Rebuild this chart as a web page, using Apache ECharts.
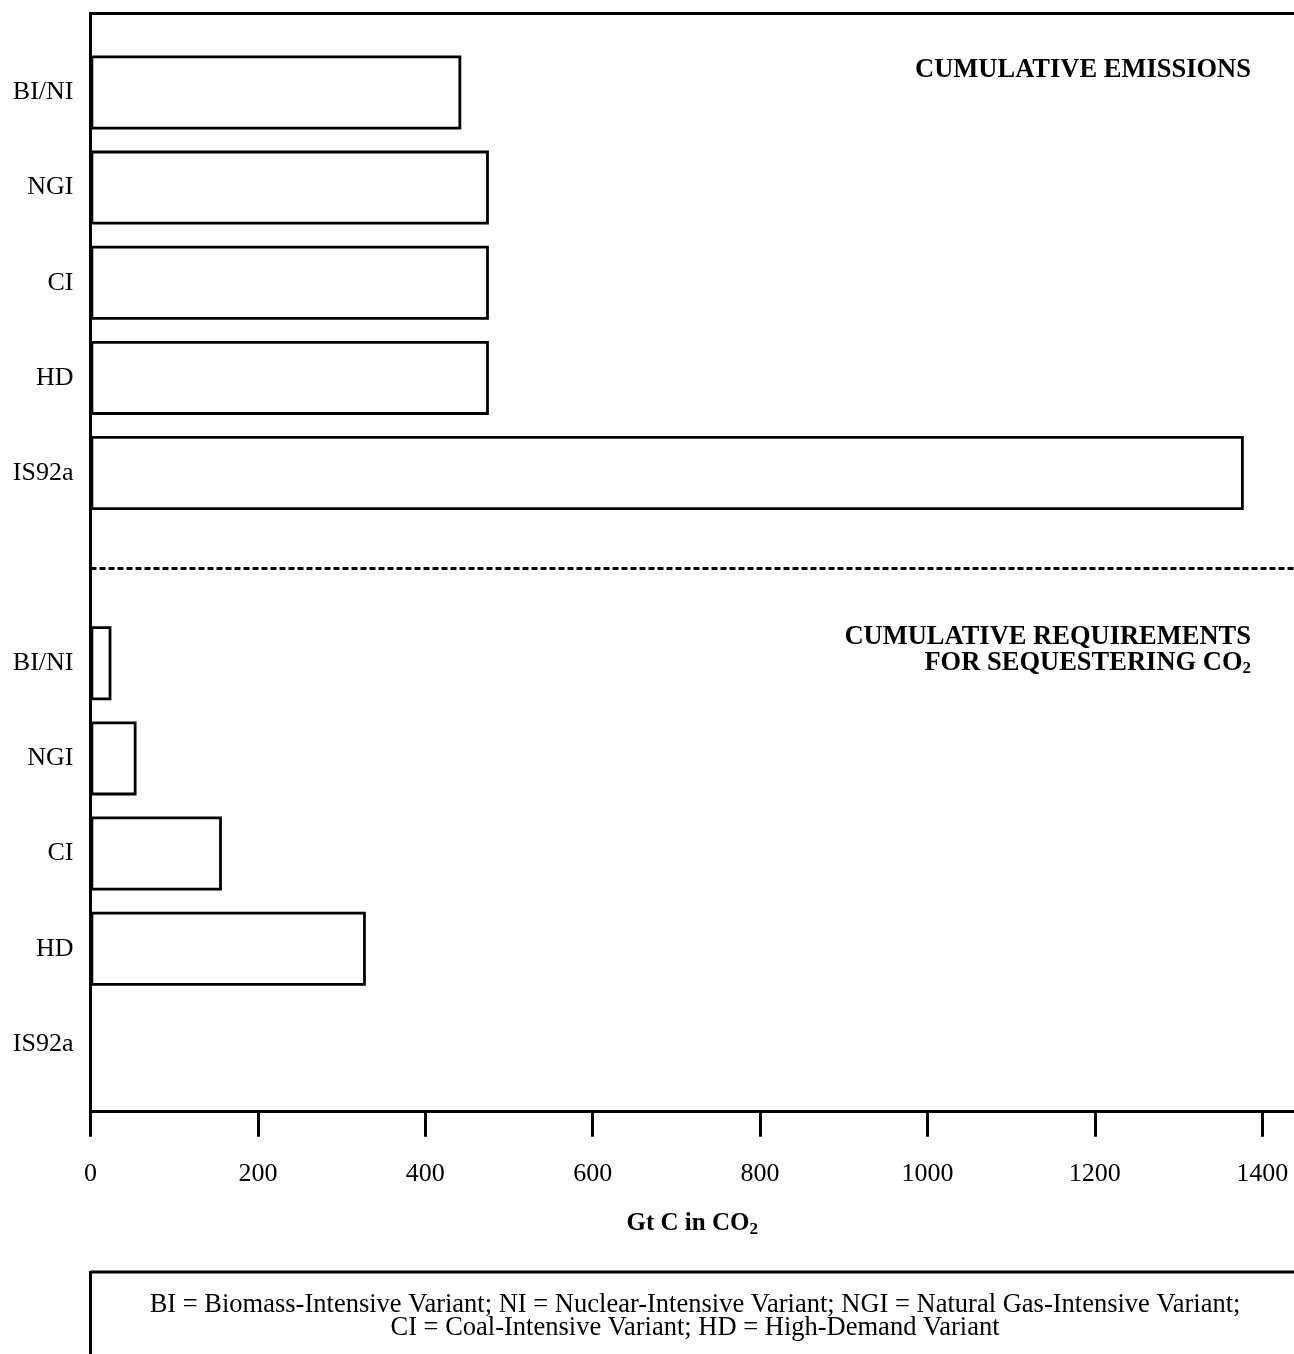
<!DOCTYPE html>
<html>
<head>
<meta charset="utf-8">
<script src="https://cdn.jsdelivr.net/npm/echarts@6/dist/echarts.min.js"></script>
<style>
html,body{margin:0;padding:0;background:#fff;}
#chart{width:1294px;height:1354px;}
</style>
</head>
<body>
<div id="chart"></div>
<script>
// ---- data ----
const categories = ['BI/NI', 'NGI', 'CI', 'HD', 'IS92a'];
const emissions = [443, 476, 476, 476, 1378];        // Gt C, cumulative emissions
const sequestration = [25, 55, 157, 329, 0];          // Gt C, cumulative requirements for sequestering CO2
const xTickValues = [0, 200, 400, 600, 800, 1000, 1200, 1400];

// ---- build axis / series data ----
const yKeys = categories.map(c => 'E|' + c).concat(['gap']).concat(categories.map(c => 'S|' + c));
const barData = emissions.concat(['-']).concat(sequestration);

const FONT = '"Liberation Serif", "Times New Roman", serif';
const chart = echarts.init(document.getElementById('chart'), null, {renderer: 'canvas'});

const option = {
  backgroundColor: '#ffffff',
  animation: false,
  grid: {left: 90.5, right: 0, top: 44.9, bottom: 262.6, containLabel: false},
  xAxis: {
    type: 'value',
    min: 0,
    max: 1438,
    offset: 20.3,
    axisLine: {show: true, lineStyle: {color: '#000', width: 3}},
    axisTick: {show: true, length: 25, inside: false, customValues: xTickValues, lineStyle: {color: '#000', width: 3}},
    axisLabel: {show: true, margin: 49, customValues: xTickValues, color: '#000', fontFamily: FONT, fontSize: 26,
      formatter: v => String(v)},
    splitLine: {show: false},
    name: 'Gt C in CO{sub|2}',
    nameLocation: 'middle',
    nameGap: 97,
    nameTextStyle: {
      color: '#000', fontFamily: FONT, fontSize: 25, fontWeight: 'bold',
      rich: {sub: {fontFamily: FONT, fontSize: 17, fontWeight: 'bold', color: '#000', padding: [12, 0, 0, 0]}}
    }
  },
  yAxis: {
    type: 'category',
    inverse: true,
    data: yKeys,
    axisLine: {show: false},
    axisTick: {show: false},
    axisLabel: {
      margin: 17, color: '#000', fontFamily: FONT, fontSize: 26,
      formatter: v => v === 'gap' ? '' : v.split('|')[1]
    },
    splitLine: {show: false}
  },
  series: [{
    type: 'bar',
    data: barData,
    barWidth: 74,
    itemStyle: {color: '#ffffff', borderColor: '#000', borderWidth: 2.8},
    markLine: {
      silent: true,
      symbol: 'none',
      label: {show: false},
      lineStyle: {color: '#000', width: 3, type: [6, 3]},
      data: [{yAxis: 'gap'}]
    }
  }],
  graphic: [
    // frame: top border and left border
    {type: 'line', shape: {x1: 90.5, y1: 13.5, x2: 1294, y2: 13.5}, style: {stroke: '#000', lineWidth: 3}},
    {type: 'line', shape: {x1: 90.5, y1: 12, x2: 90.5, y2: 1113}, style: {stroke: '#000', lineWidth: 3}},
    // panel titles
    {type: 'text', x: 1251, y: 70, style: {
      text: 'CUMULATIVE EMISSIONS', align: 'right', verticalAlign: 'middle',
      font: 'bold 26.5px ' + FONT, fill: '#000'}},
    {type: 'text', x: 1251, y: 637, style: {
      text: 'CUMULATIVE REQUIREMENTS', align: 'right', verticalAlign: 'middle',
      font: 'bold 26.5px ' + FONT, fill: '#000'}},
    {type: 'text', x: 1251, y: 663, style: {
      text: 'FOR SEQUESTERING CO{sub|2}', align: 'right', verticalAlign: 'middle',
      font: 'bold 26.5px ' + FONT, fill: '#000',
      rich: {sub: {font: 'bold 17px ' + FONT, fill: '#000', padding: [12, 0, 0, 0]}}}},
    // legend/key box
    {type: 'line', shape: {x1: 90.5, y1: 1272, x2: 1294, y2: 1272}, style: {stroke: '#000', lineWidth: 3}},
    {type: 'line', shape: {x1: 90.5, y1: 1271, x2: 90.5, y2: 1354}, style: {stroke: '#000', lineWidth: 3}},
    {type: 'text', x: 695, y: 1305, style: {
      text: 'BI = Biomass-Intensive Variant; NI = Nuclear-Intensive Variant; NGI = Natural Gas-Intensive Variant;',
      align: 'center', verticalAlign: 'middle', font: '26.5px ' + FONT, fill: '#000'}},
    {type: 'text', x: 695, y: 1328, style: {
      text: 'CI = Coal-Intensive Variant; HD = High-Demand Variant',
      align: 'center', verticalAlign: 'middle', font: '26.5px ' + FONT, fill: '#000'}}
  ]
};
chart.setOption(option);
</script>
</body>
</html>
